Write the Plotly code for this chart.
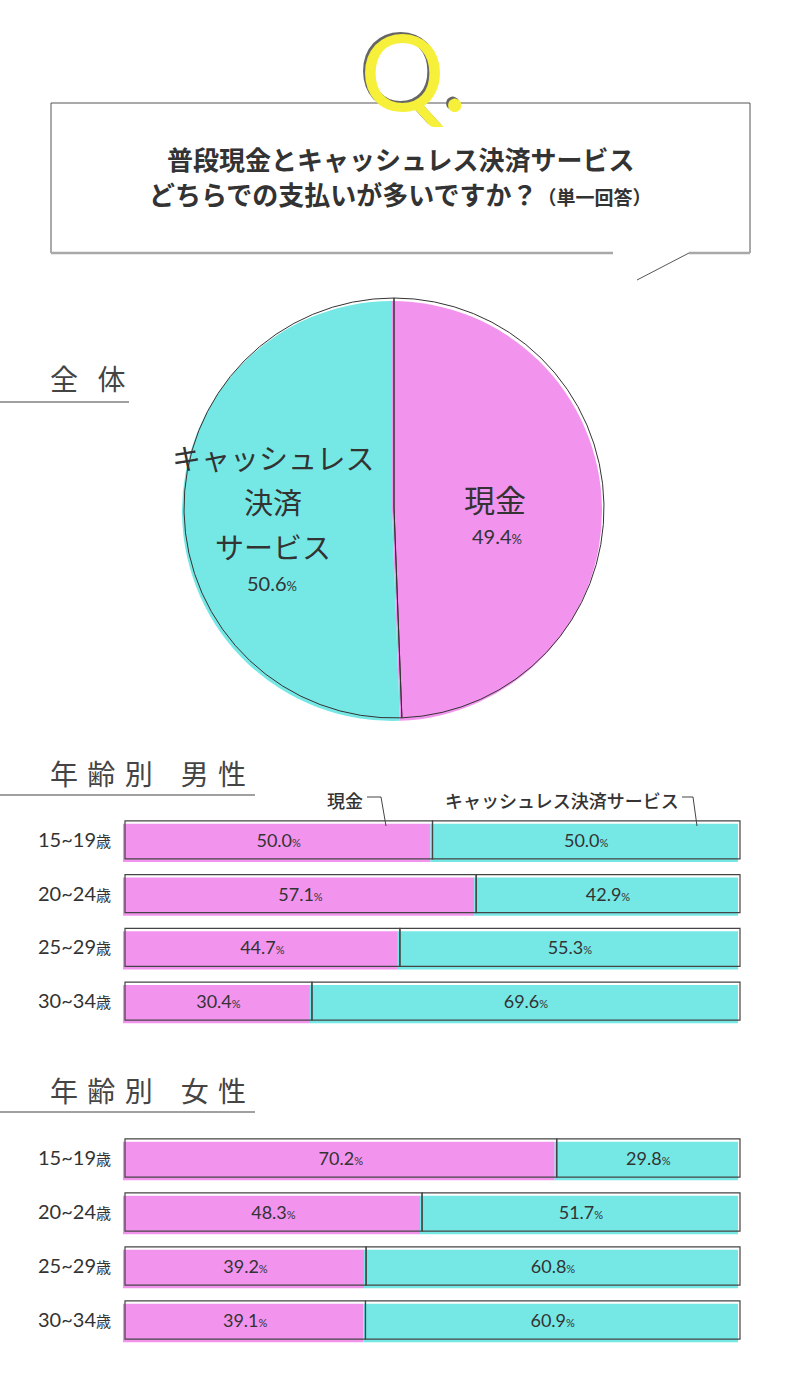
import plotly.graph_objects as go

# data
answers = ["現金", "キャッシュレス決済サービス"]
overall = [49.4, 50.6]

ages = ["15~19", "20~24", "25~29", "30~34"]
men_cash = [50.0, 57.1, 44.7, 30.4]
men_cashless = [50.0, 42.9, 55.3, 69.6]
women_cash = [70.2, 48.3, 39.2, 39.1]
women_cashless = [29.8, 51.7, 60.8, 60.9]

PINK = "#F294EE"
CYAN = "#75E8E6"
INK = "#333333"
JP = "Noto Sans CJK JP"
NUM = "Lato, Noto Sans CJK JP"

W, H = 800, 1390


def px(x):
    return x / W


def py(y):
    return 1 - y / H


def pct(v, small=11):
    return f"{v:.1f}<span style='font-size:{small}px'>%</span>"


fig = go.Figure()

# pie: fill slightly shifted down-left, outline on top
fig.add_trace(go.Pie(
    values=overall, labels=answers, sort=False, direction="clockwise", rotation=0,
    marker=dict(colors=[PINK, CYAN], line=dict(width=0)),
    textinfo="none", hoverinfo="skip",
    domain=dict(x=[px(181), px(603)], y=[py(721), py(301)]),
))
fig.add_trace(go.Pie(
    values=overall, labels=answers, sort=False, direction="clockwise", rotation=0,
    marker=dict(colors=["rgba(0,0,0,0)"] * 2, line=dict(color=INK, width=1)),
    textinfo="none", hoverinfo="skip",
    domain=dict(x=[px(183), px(605)], y=[py(718), py(298)]),
))


def add_bars(cash, cashless, xa, ya):
    # fill
    fig.add_trace(go.Bar(
        y=ages, x=cash, base=-0.33, orientation="h", width=0.71, offset=-0.30,
        marker=dict(color=PINK, line=dict(width=0)), hoverinfo="skip",
        xaxis=xa, yaxis=ya,
    ))
    fig.add_trace(go.Bar(
        y=ages, x=cashless, base=[c - 0.33 for c in cash], orientation="h",
        width=0.71, offset=-0.30,
        marker=dict(color=CYAN, line=dict(width=0)), hoverinfo="skip",
        xaxis=xa, yaxis=ya,
    ))
    # outlines with labels
    for vals, start in ((cash, 0), (cashless, cash)):
        fig.add_trace(go.Bar(
            y=ages, x=vals, base=start, orientation="h", width=0.71, offset=-0.355,
            marker=dict(color="rgba(0,0,0,0)", line=dict(color="#444444", width=1.2)),
            text=[pct(v) for v in vals], textposition="inside", insidetextanchor="middle",
            textangle=0, constraintext="none",
            textfont=dict(family=NUM, size=18, color=INK), hoverinfo="skip",
            xaxis=xa, yaxis=ya,
        ))


add_bars(men_cash, men_cashless, "x", "y")
add_bars(women_cash, women_cashless, "x2", "y2")

tick_text = [f"{a}<span style='font-size:15px'>歳</span>" for a in ages]
x_range = [-10 / 6.15, 100 + 10 / 6.15]
xax = dict(range=x_range, domain=[px(115), px(750)], showgrid=False, zeroline=False,
           showticklabels=False, fixedrange=True)
yax = dict(type="category", categoryarray=ages, range=[3.5, -0.5], tickvals=ages,
           ticktext=tick_text, showgrid=False, zeroline=False, ticks="", ticklen=0,
           ticklabelstandoff=3, fixedrange=True,
           tickfont=dict(family=NUM, size=20, color=INK))

fig.update_layout(
    width=W, height=H, margin=dict(l=0, r=0, t=0, b=0),
    paper_bgcolor="white", plot_bgcolor="rgba(0,0,0,0)",
    barmode="overlay", showlegend=False,
    xaxis=dict(xax, anchor="y"),
    yaxis=dict(yax, anchor="x", domain=[py(1028), py(813)]),
    xaxis2=dict(xax, anchor="y2"),
    yaxis2=dict(yax, anchor="x2", domain=[py(1347), py(1131)]),
)


def seg(x0, y0, x1, y1, color, width):
    fig.add_shape(type="line", xref="paper", yref="paper",
                  x0=px(x0), y0=py(y0), x1=px(x1), y1=py(y1),
                  line=dict(color=color, width=width))


def path(points, color, width):
    d = "M " + " L ".join(f"{px(x)},{py(y)}" for x, y in points)
    fig.add_shape(type="path", xref="paper", yref="paper", path=d,
                  line=dict(color=color, width=width))


# question box
seg(51, 103, 750, 103, "#555555", 1)
seg(51, 103, 51, 253, "#555555", 1)
seg(750, 103, 750, 253, "#555555", 1)
seg(51, 253, 613, 253, "#a8a8a8", 2.5)
seg(689, 253, 750, 253, "#a8a8a8", 2.5)
seg(689, 253, 637, 280, "#555555", 1)

# heading underlines
seg(0, 402, 129, 402, "#a0a0a0", 2)
seg(0, 795, 255, 795, "#a0a0a0", 2)
seg(0, 1112, 255, 1112, "#a0a0a0", 2)

# callout leaders
path([(367, 797), (381, 797), (386, 826)], "#444444", 1)
path([(682, 797), (693, 797), (697, 826)], "#444444", 1)


def note(text, x, y, size, family=JP, color=INK, xanchor="center", weight=None, shadow=None):
    f = dict(family=family, size=size, color=color)
    if weight:
        f["weight"] = weight
    if shadow:
        f["shadow"] = shadow
    fig.add_annotation(text=text, x=px(x), y=py(y), xref="paper", yref="paper",
                       xanchor=xanchor, yanchor="middle", showarrow=False, font=f)


# Q mark
note("Q.", 414, 70, 106, family="Lato", color="#F6F03A", weight=400,
     shadow="-2px -2px 0 #666666")

note("普段現金とキャッシュレス決済サービス", 400, 158, 26, weight=700)
note("どちらでの支払いが多いですか？<span style='font-size:19px'>（単一回答）</span>",
     400, 193, 26, weight=700)

sp = "\u2004"
note("全\u2002\u2009体", 48, 378, 28, color="#444444", xanchor="left")
note(f"年{sp}齢{sp}別\u3000男{sp}性", 48, 773, 28, color="#444444", xanchor="left")
note(f"年{sp}齢{sp}別\u3000女{sp}性", 48, 1090, 28, color="#444444", xanchor="left")

# pie labels
note(answers[0], 495, 498, 31)
note(pct(overall[0], 13), 497, 536, 20, family=NUM)
for line, yy in zip(["キャッシュレス", "決済", "サービス"], [457, 501, 546]):
    note(line, 273, yy, 29)
note(pct(overall[1], 13), 272, 583, 20, family=NUM)

# bar callout labels
note(answers[0], 365, 800, 18, xanchor="right", weight=500)
note(answers[1], 681, 800, 18, xanchor="right", weight=500)

fig.write_html("out.html", config={"displayModeBar": False},
               post_script="document.body.style.margin='0';")
